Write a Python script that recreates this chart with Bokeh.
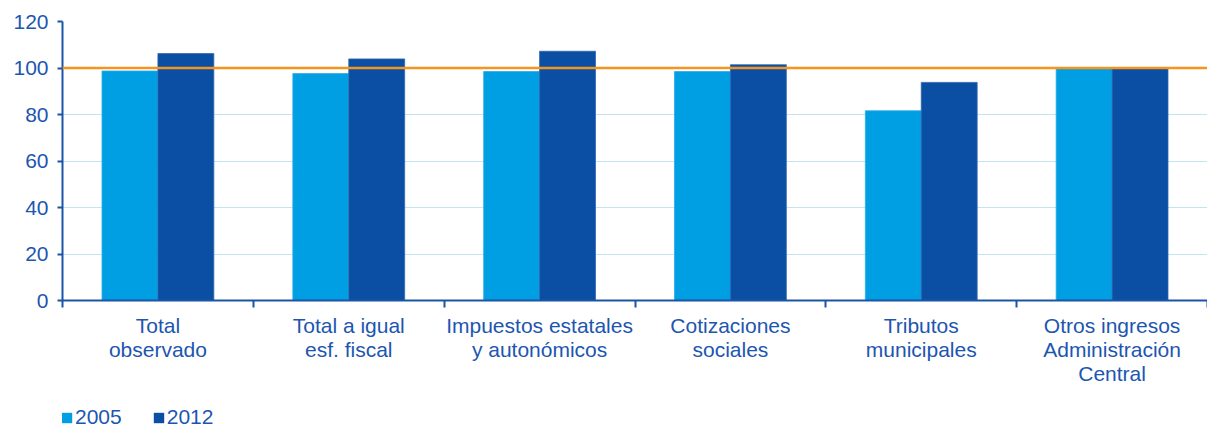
from bokeh.plotting import figure
from bokeh.layouts import column
from bokeh.models import Range1d, FixedTicker, Span, Legend, LegendItem, ColumnDataSource
from bokeh.embed import file_html
from bokeh.resources import INLINE

categories = ["Total\nobservado", "Total a igual\nesf. fiscal", "Impuestos estatales\ny autonómicos",
              "Cotizaciones\nsociales", "Tributos\nmunicipales", "Otros ingresos\nAdministración\nCentral"]
series_names = ["2005", "2012"]
v2005 = [98.7, 97.6, 98.5, 98.5, 81.6, 100.1]
v2012 = [106.2, 103.9, 107.2, 101.4, 93.8, 100.1]
yticks = [0, 20, 40, 60, 80, 100, 120]
reference_level = 100

FONT = "Liberation Sans"
FS = "21px"
TXT = "#1c56b0"
AX = "#1a55a8"
C1 = "#009fe3"
C2 = "#0a4fa3"

n = len(categories)
centers = [i + 0.5 for i in range(n)]
bw = 0.293

p = figure(width=1207, height=404, output_backend="svg", toolbar_location=None,
           x_range=Range1d(0, n), y_range=Range1d(0, 120),
           min_border_left=62, min_border_top=21, min_border_right=0, min_border_bottom=104)
p.outline_line_color = None
p.background_fill_color = "white"

src = ColumnDataSource(dict(x1=[c - bw / 2 for c in centers], x2=[c + bw / 2 for c in centers],
                            a=v2005, b=v2012))
p.vbar(x="x1", top="a", width=bw, source=src, fill_color=C1, line_color="#2aacea", line_width=0.8)
p.vbar(x="x2", top="b", width=bw, source=src, fill_color=C2, line_color="#2e67b0", line_width=0.8)

p.add_layout(Span(location=reference_level, dimension="width", line_color="#f7941d", line_width=2.5))

# axes
p.xaxis.ticker = FixedTicker(ticks=centers, minor_ticks=list(range(n + 1)))
p.xaxis.major_label_overrides = {c: lab for c, lab in zip(centers, categories)}
p.xaxis.major_tick_out = 0
p.xaxis.major_tick_in = 0
p.xaxis.minor_tick_out = 7
p.xaxis.minor_tick_in = 0
p.xaxis.minor_tick_line_color = AX
p.xaxis.minor_tick_line_width = 2
p.xaxis.axis_line_color = AX
p.xaxis.axis_line_width = 2
p.xaxis.major_label_text_font = FONT
p.xaxis.major_label_text_font_size = FS
p.xaxis.major_label_text_color = TXT
p.xaxis.major_label_text_line_height = 1.05
p.xaxis.major_label_standoff = 6

p.yaxis.ticker = FixedTicker(ticks=yticks)
p.yaxis.minor_tick_line_color = None
p.yaxis.major_tick_out = 5
p.yaxis.major_tick_in = 0
p.yaxis.major_tick_line_color = AX
p.yaxis.major_tick_line_width = 2
p.yaxis.axis_line_color = AX
p.yaxis.axis_line_width = 2
p.yaxis.major_label_text_font = FONT
p.yaxis.major_label_text_font_size = FS
p.yaxis.major_label_text_color = TXT
p.yaxis.major_label_standoff = 9

p.xgrid.grid_line_color = None
p.ygrid.ticker = FixedTicker(ticks=yticks)
p.ygrid.grid_line_color = "#c4e4f4"
p.ygrid.grid_line_width = 1

# legend in a small strip below (its frame is aligned with the main frame)
lg = figure(width=1207, height=26, output_backend="svg", toolbar_location=None,
            x_range=Range1d(0, 1), y_range=Range1d(0, 1),
            x_axis_location=None, y_axis_location=None,
            min_border_left=0, min_border_top=0, min_border_right=0, min_border_bottom=0)
lg.grid.visible = False
lg.outline_line_color = None
hidden = ColumnDataSource(dict(x=[0.5], b=[-60.0], t=[-50.0]))
g1 = lg.vbar(x="x", bottom="b", top="t", width=0.01, source=hidden, fill_color=C1, line_color=None)
g2 = lg.vbar(x="x", bottom="b", top="t", width=0.01, source=hidden, fill_color=C2, line_color=None)
legend = Legend(items=[LegendItem(label=series_names[0], renderers=[g1]),
                       LegendItem(label=series_names[1], renderers=[g2])],
                orientation="horizontal", location=(-2, 1),
                label_text_font=FONT, label_text_font_size=FS, label_text_color=TXT,
                glyph_width=13, glyph_height=13, label_standoff=2, spacing=30,
                padding=0, margin=0, border_line_color=None, background_fill_alpha=0)
lg.add_layout(legend, "center")

layout = column(p, lg, spacing=0)
open("out.html", "w").write(file_html(layout, INLINE))
